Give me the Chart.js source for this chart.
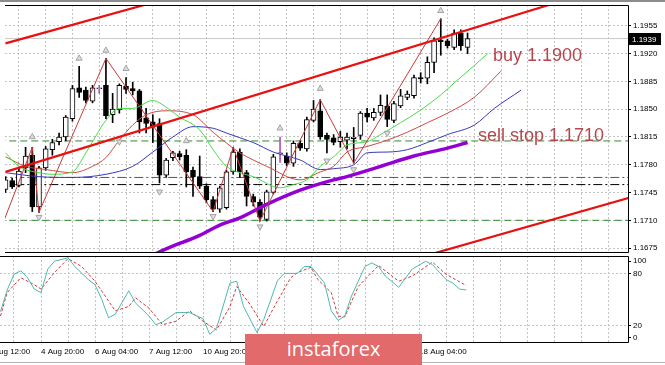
<!DOCTYPE html>
<html>
<head>
<meta charset="utf-8">
<title>EURUSD H4</title>
<script src="https://cdn.jsdelivr.net/npm/chart.js@4.4.1/dist/chart.umd.min.js"></script>
<style>
  html, body { margin: 0; padding: 0; background: #fff; }
  #box { position: relative; width: 665px; height: 365px; overflow: hidden; background: #fff; }
  #priceCanvas { position: absolute; left: 0; top: 0; }
  #stochCanvas { position: absolute; left: 0; top: 256px; }
  #edgeTop { position: absolute; left: 0; top: 0; width: 665px; height: 2px; background: #8c8c8c; }
  #edgeBottom { position: absolute; left: 0; top: 362px; width: 665px; height: 1px; background: #b4b4b4; }
  #logo { position: absolute; left: 245px; top: 334px; width: 177px; height: 31px; background: #e26a6a;
          color: #fff; font: 20px "Open Sans", sans-serif; text-align: center; line-height: 30px; }
</style>
</head>
<body>
<div id="box">
  <canvas id="priceCanvas" width="665" height="258"></canvas>
  <canvas id="stochCanvas" width="665" height="109"></canvas>
  <div id="edgeTop"></div>
  <div id="edgeBottom"></div>
  <div id="logo">instaforex</div>
</div>
<script>
// EURUSD H4 candles, 3 Aug 20:00 .. 19 Aug 08:00
const open  = [1.1749,1.1760,1.1754,1.1776,1.1792,1.1727,1.1776,1.1799,1.1809,1.1815,
               1.1838,1.1877,1.1874,1.1860,1.1876,1.1880,1.1843,1.1849,1.1879,1.1876,
               1.1873,1.1839,1.1834,1.1832,1.1767,1.1789,1.1794,1.1792,1.1773,1.1765,
               1.1753,1.1736,1.1724,1.1726,1.1771,1.1796,1.1770,1.1740,1.1733,1.1711,
               1.1745,1.1794,1.1791,1.1782,1.1807,1.1800,1.1836,1.1848,1.1817,1.1814,
               1.1809,1.1811,1.1813,1.1817,1.1845,1.1839,1.1846,1.1854,1.1836,1.1854,
               1.1865,1.1867,1.1890,1.1889,1.1909,1.1937,1.1936,1.1928,1.1946,1.1928];
const high  = [1.1765,1.1763,1.1776,1.1802,1.1802,1.1778,1.1803,1.1812,1.1820,1.1842,
               1.1880,1.1904,1.1878,1.1880,1.1880,1.1914,1.1870,1.1882,1.1890,1.1884,
               1.1875,1.1851,1.1843,1.1838,1.1788,1.1797,1.1797,1.1799,1.1777,1.1791,
               1.1756,1.1740,1.1753,1.1773,1.1802,1.1800,1.1773,1.1743,1.1736,1.1748,
               1.1793,1.1815,1.1795,1.1810,1.1810,1.1840,1.1861,1.1862,1.1820,1.1818,
               1.1822,1.1820,1.1827,1.1847,1.1851,1.1851,1.1868,1.1868,1.1860,1.1875,
               1.1873,1.1893,1.1896,1.1916,1.1940,1.1964,1.1938,1.1950,1.1950,1.1946];
const low   = [1.1745,1.1750,1.1752,1.1770,1.1721,1.1720,1.1773,1.1792,1.1805,1.1810,
               1.1835,1.1865,1.1858,1.1858,1.1870,1.1838,1.1833,1.1845,1.1870,1.1868,
               1.1820,1.1820,1.1808,1.1757,1.1764,1.1785,1.1786,1.1752,1.1740,1.1750,
               1.1732,1.1721,1.1720,1.1724,1.1768,1.1764,1.1728,1.1728,1.1709,1.1709,
               1.1743,1.1783,1.1779,1.1778,1.1798,1.1797,1.1834,1.1812,1.1795,1.1805,
               1.1802,1.1800,1.1782,1.1812,1.1834,1.1836,1.1842,1.1828,1.1833,1.1852,
               1.1862,1.1864,1.1883,1.1882,1.1896,1.1918,1.1927,1.1925,1.1924,1.1920];
const close = [1.1761,1.1752,1.1772,1.1791,1.1727,1.1776,1.1800,1.1808,1.1815,1.1840,
               1.1876,1.1871,1.1861,1.1877,1.1877,1.1842,1.1850,1.1880,1.1875,1.1873,
               1.1834,1.1832,1.1828,1.1767,1.1786,1.1795,1.1790,1.1771,1.1765,1.1753,
               1.1736,1.1724,1.1751,1.1771,1.1796,1.1771,1.1740,1.1733,1.1714,1.1746,
               1.1790,1.1795,1.1782,1.1807,1.1801,1.1837,1.1850,1.1815,1.1812,1.1808,
               1.1815,1.1815,1.1815,1.1845,1.1840,1.1846,1.1855,1.1837,1.1857,1.1867,
               1.1869,1.1890,1.1888,1.1909,1.1936,1.1935,1.1930,1.1946,1.1930,1.1939];
const purpleBars = [14, 41];

const priceTicks = [1.1955, 1.1920, 1.1885, 1.1850, 1.1815, 1.1780, 1.1745, 1.1710, 1.1675];
const stochTicks = [100, 80, 20, 0];
const timeTickIdx  = [-2, 6, 14, 22, 30, 38, 46, 54, 62];
const timeTickText = ['3 Aug 12:00', '4 Aug 20:00', '6 Aug 04:00', '7 Aug 12:00', '10 Aug 20:00',
                      '12 Aug 04:00', '13 Aug 12:00', '14 Aug 20:00', '18 Aug 04:00'];

// Alligator: lips (green), teeth (red), jaw (blue) - bar index / price
const lipsX  = [0,2,5,7,10,12,15,17,19,22,23,26,29,31,33,35,37,41,43,45,47,49,51,54,56,59,62,65,67,70,72];
const lipsY  = [1.1795,1.1778,1.1770,1.1768,1.1771,1.1795,1.1836,1.1851,1.1851,1.1861,1.1858,1.1840,
                1.1824,1.1799,1.1778,1.1770,1.1765,1.1751,1.1755,1.1761,1.1778,1.1790,1.1805,1.1809,
                1.1818,1.1833,1.1849,1.1868,1.1883,1.1905,1.1920];
const teethX = [0,3,6,10,13,15,17,19,21,24,28,31,35,37,39,44,47,49,51,54,57,60,63,66,70,74];
const teethY = [1.1790,1.1778,1.1774,1.1770,1.1778,1.1789,1.1811,1.1830,1.1843,1.1848,1.1843,1.1821,
                1.1795,1.1786,1.1778,1.1761,1.1771,1.1778,1.1796,1.1803,1.1811,1.1821,1.1833,1.1845,
                1.1865,1.1898];
const jawX   = [0,5,10,15,19,22,25,28,31,33,35,37,40,44,47,49,52,54,57,60,63,66,70,73,77];
const jawY   = [1.1770,1.1765,1.1764,1.1768,1.1778,1.1796,1.1815,1.1828,1.1826,1.1820,1.1814,1.1808,
                1.1796,1.1786,1.1774,1.1775,1.1780,1.1795,1.1796,1.1799,1.1808,1.1818,1.1830,1.1851,
                1.1874];
// slow moving average (thick purple)
const maX    = [21,24,29,32,35,39,44,49,51,56,61,66,69];
const maY    = [1.1662,1.1674,1.1691,1.1704,1.1713,1.1730,1.1748,1.1761,1.1765,1.1778,1.1791,1.1801,1.1808];

// zigzag and fractals
const zigX   = [-2, 4, 5, 15, 31, 34, 38, 47, 52, 65];
const zigY   = [1.1671,1.1802,1.1720,1.1914,1.1721,1.1802,1.1709,1.1862,1.1782,1.1964];
const fracUpX = [4, 11, 15, 18, 27, 41, 47, 65];
const fracUpY = [1.1815,1.1914,1.1924,1.1901,1.1810,1.1826,1.1876,1.1974];
const fracDnX = [5, 17, 23, 31, 38, 48, 52, 57];
const fracDnY = [1.1714,1.1809,1.1746,1.1715,1.1702,1.1785,1.1774,1.1820];

// channel lines and levels
const chUpX  = [0, 21],  chUpY  = [1.1933, 1.1982];
const chMidX = [0, 81],  chMidY = [1.1771, 1.1981];
const chLowX = [63, 93], chLowY = [1.1666, 1.1738];
const orderLevels = [1.1810, 1.1710];
const pivotLevels = [1.1764, 1.1755];

// Stochastic %K and %D
const kX = [0,1,2,3,4,5,6,7,8,10,11,13,14,15,16,17,19,20,22,23,24,26,28,30,31,32,34,35,36,38,39,
            41,42,44,45,46,48,49,50,51,52,54,55,56,57,59,61,63,64,66,67,68,69];
const kY = [36,61,79,83,75,62,58,85,94,98,88,73,67,50,29,33,60,46,31,21,24,35,35,28,10,17,69,71,42,
            12,27,71,80,80,88,88,69,37,26,31,54,88,92,88,77,64,85,94,90,73,69,62,61];
const dX = [0,1,3,5,6,8,10,12,14,17,19,20,22,24,26,28,30,32,34,35,37,39,41,43,44,46,47,49,50,51,
            53,56,59,61,64,66,69];
const dY = [31,58,75,67,62,81,97,88,71,37,42,52,40,21,25,37,25,15,42,65,44,19,48,75,81,87,73,58,31,
            30,65,89,71,77,93,79,66];

const X_MIN = -0.074, X_MAX = 92.96;
const gridIdx = [];
for (let k = 2; k <= 92; k += 4) gridIdx.push(k);

const pts = (xs, ys) => xs.map((x, i) => ({ x: x, y: ys[i] }));
const hline = v => [{ x: X_MIN - 1, y: v }, { x: X_MAX + 1, y: v }];
const gridColor = '#c4c4c4';

Chart.defaults.font.family = '"Liberation Sans", Arial, sans-serif';
Chart.defaults.font.size = 8;
Chart.defaults.color = '#000';

function lineSet(data, color, width, extra) {
  return Object.assign({ type: 'line', data: data, borderColor: color, borderWidth: width,
    pointRadius: 0, fill: false, tension: 0 }, extra || {});
}

function fractals(data, rotation) {
  return lineSet(data, '#b0b0b0', 1, { order: 10, showLine: false, pointRadius: 3.5,
    pointStyle: 'triangle', pointRotation: rotation,
    pointBackgroundColor: '#dcdcdc', pointBorderColor: '#a4a4a4' });
}

function xScale(withLabels) {
  return {
    type: 'linear', min: X_MIN, max: X_MAX, bounds: 'data', offset: false,
    afterBuildTicks: s => {
      s.ticks = (withLabels ? [-2].concat(gridIdx) : gridIdx).map(v => ({ value: v }));
    },
    afterFit: s => { s.paddingLeft = 0; s.paddingRight = 0; s.height = withLabels ? 22 : 4; },
    grid: { color: gridColor, drawTicks: false, offset: false },
    border: { display: false, dash: [2, 2] },
    ticks: {
      display: withLabels, autoSkip: false, maxRotation: 0, minRotation: 0, align: 'start', padding: 4,
      callback: v => { const k = timeTickIdx.indexOf(v); return k >= 0 ? timeTickText[k] : ''; }
    }
  };
}

const frame = {
  id: 'frame',
  afterDraw(chart) {
    const c = chart.ctx, a = chart.chartArea;
    c.save();
    c.strokeStyle = '#000';
    c.lineWidth = 1;
    c.beginPath();
    c.moveTo(a.left, a.top + 0.5);
    c.lineTo(a.right + 0.5, a.top + 0.5);
    c.lineTo(a.right + 0.5, a.bottom - 0.5);
    c.lineTo(a.left, a.bottom - 0.5);
    c.stroke();
    c.restore();
  }
};

const priceExtras = {
  id: 'priceExtras',
  afterDraw(chart) {
    const c = chart.ctx, a = chart.chartArea;
    const last = close[close.length - 1];
    const y = Math.round(chart.scales.y.getPixelForValue(last));
    c.save();
    c.fillStyle = '#000';
    c.fillRect(a.right + 1, y - 6, 32, 12);
    c.fillStyle = '#fff';
    c.font = '8px "Liberation Sans", Arial, sans-serif';
    c.textBaseline = 'middle';
    c.fillText(last.toFixed(4), a.right + 4, y + 0.5);
    c.font = '18px "Liberation Sans", Arial, sans-serif';
    c.fillStyle = '#b5474c';
    c.textBaseline = 'alphabetic';
    c.fillText('buy 1.1900', 493, 61);
    c.fillText('sell stop 1.1710', 478, 141);
    c.restore();
  }
};

const idx = close.map((_, i) => i);
const bullish = i => close[i] >= open[i];

new Chart(document.getElementById('priceCanvas'), {
  type: 'bar',
  data: {
    datasets: [
      // levels and bid line (behind candles)
      lineSet(hline(close[close.length - 1]), '#c8c8c8', 1, { order: 90 }),
      lineSet(hline(orderLevels[0]), '#2e8b2e', 1, { borderDash: [7, 4], order: 80 }),
      lineSet(hline(orderLevels[1]), '#2e8b2e', 1, { borderDash: [7, 4], order: 80 }),
      lineSet(hline(pivotLevels[0]), '#555', 1, { borderDash: [9, 3, 2, 3], order: 80 }),
      lineSet(hline(pivotLevels[1]), '#000', 1, { borderDash: [9, 3, 2, 3], order: 80 }),
      // candles: wicks then bodies
      {
        type: 'bar', order: 60, grouped: false, barThickness: 1, maxBarThickness: 1,
        data: idx.map(i => ({ x: i, y: [low[i], high[i]] })),
        backgroundColor: c => purpleBars.includes(c.dataIndex) ? '#b050c0' : '#000',
        borderWidth: 0
      },
      {
        type: 'bar', order: 55, grouped: false, barThickness: 5, maxBarThickness: 5,
        data: idx.map(i => ({ x: i, y: [open[i], close[i]] })),
        backgroundColor: c => (c.dataIndex !== undefined && bullish(c.dataIndex)) ? '#fff' : '#000',
        borderColor: '#000', borderWidth: 1, borderSkipped: false
      },
      // indicators
      lineSet(pts(maX, maY), '#9400d3', 3.5, { order: 40, cubicInterpolationMode: 'monotone' }),
      lineSet(pts(jawX, jawY), '#3838b8', 1, { order: 35, cubicInterpolationMode: 'monotone' }),
      lineSet(pts(teethX, teethY), '#d04848', 1, { order: 34, cubicInterpolationMode: 'monotone' }),
      lineSet(pts(lipsX, lipsY), '#44dd44', 1, { order: 33, cubicInterpolationMode: 'monotone' }),
      lineSet(pts(zigX, zigY), '#c83a3a', 1, { order: 30 }),
      lineSet(pts(chUpX, chUpY), '#e81010', 2.2, { order: 20 }),
      lineSet(pts(chMidX, chMidY), '#e81010', 2.2, { order: 20 }),
      lineSet(pts(chLowX, chLowY), '#e81010', 2.2, { order: 20 }),
      fractals(pts(fracUpX, fracUpY), 0),
      fractals(pts(fracDnX, fracDnY), 180)
    ]
  },
  options: {
    responsive: false, animation: false, devicePixelRatio: 1, events: [],
    layout: { padding: { top: 4, left: 0, right: 0, bottom: 0 } },
    plugins: { legend: { display: false }, tooltip: { enabled: false } },
    scales: {
      x: xScale(false),
      y: {
        position: 'right', min: 1.16688, max: 1.19813,
        afterBuildTicks: s => { s.ticks = priceTicks.map(v => ({ value: v })); },
        afterFit: s => { s.width = 37; s.paddingTop = 0; s.paddingBottom = 0; },
        grid: { color: gridColor, tickColor: '#000', tickLength: 3, drawTicks: true },
        border: { display: false, dash: [2, 2] },
        ticks: { padding: 2, autoSkip: false, callback: (v, i) => priceTicks[i].toFixed(4) }
      }
    }
  },
  plugins: [frame, priceExtras]
});

new Chart(document.getElementById('stochCanvas'), {
  type: 'line',
  data: {
    datasets: [
      lineSet(pts(kX, kY), '#4fb8b0', 1, {}),
      lineSet(pts(dX, dY), '#d03c3c', 1, { borderDash: [3, 2] })
    ]
  },
  options: {
    responsive: false, animation: false, devicePixelRatio: 1, events: [],
    layout: { padding: 0 },
    plugins: { legend: { display: false }, tooltip: { enabled: false } },
    scales: {
      x: xScale(true),
      y: {
        position: 'right', min: 0, max: 100,
        // MT4 keeps the 100 and 0 captions inside the window
        afterBuildTicks: s => { s.ticks = stochTicks.map(v => ({ value: Math.min(94, Math.max(6, v)) })); },
        afterFit: s => { s.width = 37; s.paddingTop = 0; s.paddingBottom = 0; },
        grid: {
          color: c => (c.tick && (c.tick.value === 80 || c.tick.value === 20)) ? gridColor : 'rgba(0,0,0,0)',
          tickColor: '#000', tickLength: 3, drawTicks: true
        },
        border: { display: false, dash: [2, 2] },
        ticks: { padding: 2, autoSkip: false, callback: (v, i) => String(stochTicks[i]) }
      }
    }
  },
  plugins: [frame]
});
</script>
</body>
</html>
